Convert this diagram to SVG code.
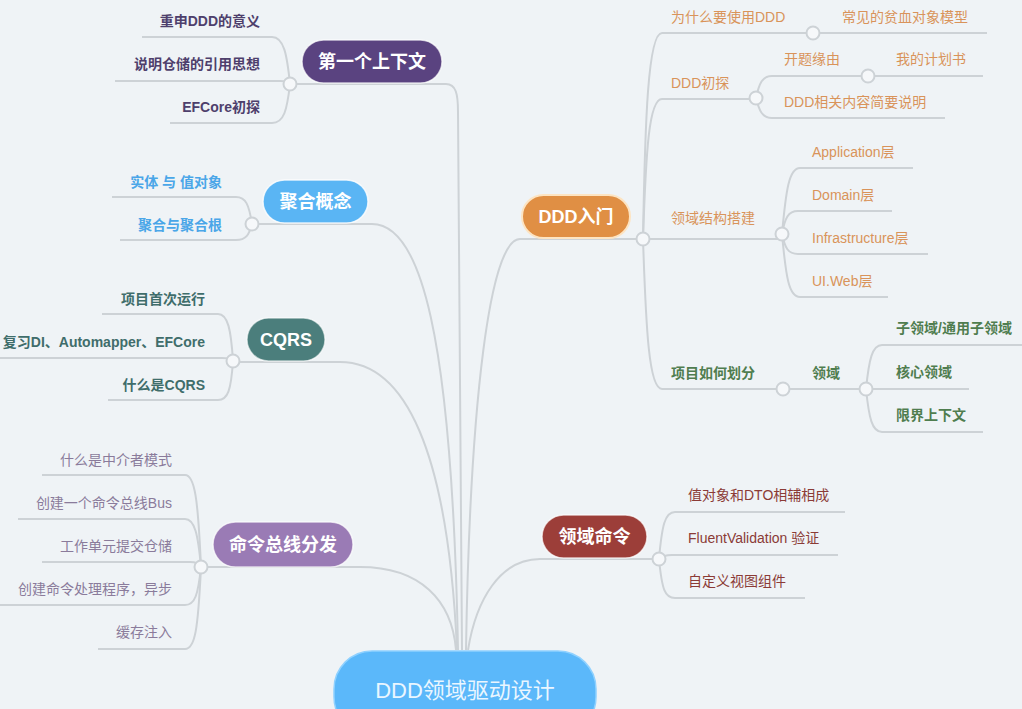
<svg xmlns="http://www.w3.org/2000/svg" width="1022" height="709" viewBox="0 0 1022 709">
<style>
.ln{fill:none;stroke:#cdd2d6;stroke-width:2}
.dot{fill:#f6f8fa;stroke:#cdd2d6;stroke-width:2}
text{font-family:"Liberation Sans","Noto Sans CJK SC",sans-serif;font-size:14px}
.tp{font-size:18px;font-weight:bold;fill:#ffffff;text-anchor:middle}
.e{text-anchor:end}
.c1{fill:#4e3f6c;font-weight:bold}
.c2{fill:#4aa6e8;font-weight:bold}
.c3{fill:#3f6d6b;font-weight:bold}
.c4{fill:#8a7b9b}
.c5{fill:#d9935a}
.c6{fill:#4f7d4f;font-weight:bold}
.c7{fill:#8b3b36}
</style>
<rect x="0" y="0" width="1022" height="709" fill="#eff3f6"/>
<g id="connectors">
<path class="ln" d="M290,84 H446 C456,84 458,94 458,112 L462,650"/>
<path class="ln" d="M252,224 H372 C420,224 452,330 458,650"/>
<path class="ln" d="M233,362 H340 C405,362 448,450 457,650"/>
<path class="ln" d="M201,567 H360 C420,567 452,600 456,650"/>
<path class="ln" d="M643,239 H520 C490,239 470,400 466,650"/>
<path class="ln" d="M659,559 H540 C500,559 476,600 468,650"/>
<path class="ln" d="M290,84 C287,55 284,37 272,37 H142"/>
<path class="ln" d="M290,84 C288,81 286,81 280,81 H115"/>
<path class="ln" d="M290,84 C287,110 284,123 272,123 H170"/>
<path class="ln" d="M252,224 C249,205 246,197 236,197 H112"/>
<path class="ln" d="M252,224 C249,235 246,240 236,240 H120"/>
<path class="ln" d="M233,361 C231,330 228,314 218,314 H102"/>
<path class="ln" d="M233,361 C230,358 228,358 222,358 H0"/>
<path class="ln" d="M233,361 C231,390 228,400 218,400 H108"/>
<path class="ln" d="M201,567 C198,500 195,475 185,475 H42"/>
<path class="ln" d="M201,567 C198,535 195,519 185,519 H18"/>
<path class="ln" d="M201,567 C199,563 196,562 190,562 H42"/>
<path class="ln" d="M201,567 C198,595 195,605 185,605 H0"/>
<path class="ln" d="M201,567 C198,630 195,649 185,649 H98"/>
<path class="ln" d="M643,239 C645,120 648,33 662,33 H987"/>
<path class="ln" d="M643,239 C646,150 649,99 662,99 H756"/>
<path class="ln" d="M643,239 H782"/>
<path class="ln" d="M643,239 C646,330 649,389 662,389 H866"/>
<path class="ln" d="M756,98 C759,84 762,76 772,76 H983"/>
<path class="ln" d="M756,98 C759,110 762,118 772,118 H945"/>
<path class="ln" d="M782,234 C786,190 789,168 800,168 H913"/>
<path class="ln" d="M782,234 C785,218 788,211 798,211 H892"/>
<path class="ln" d="M782,234 C785,248 788,254 798,254 H928"/>
<path class="ln" d="M782,234 C786,278 789,297 800,297 H888"/>
<path class="ln" d="M866,389 C869,360 872,345 882,345 H1022"/>
<path class="ln" d="M866,389 H969"/>
<path class="ln" d="M866,389 C869,418 872,432 882,432 H983"/>
<path class="ln" d="M659,559 C662,525 665,512 675,512 H845"/>
<path class="ln" d="M659,559 C662,556 665,555 672,555 H838"/>
<path class="ln" d="M659,559 C662,590 665,598 675,598 H805"/>
<circle class="dot" cx="290" cy="84" r="6.5"/>
<circle class="dot" cx="252" cy="224" r="6.5"/>
<circle class="dot" cx="233" cy="361" r="6.5"/>
<circle class="dot" cx="201" cy="567" r="6.5"/>
<circle class="dot" cx="643" cy="239" r="6.5"/>
<circle class="dot" cx="659" cy="559" r="6.5"/>
<circle class="dot" cx="813" cy="33" r="6.5"/>
<circle class="dot" cx="756" cy="98" r="6.5"/>
<circle class="dot" cx="868" cy="76" r="6.5"/>
<circle class="dot" cx="782" cy="234" r="6.5"/>
<circle class="dot" cx="783" cy="389" r="6.5"/>
<circle class="dot" cx="866" cy="389" r="6.5"/>
</g>
<g id="root">
<rect x="334" y="651" width="262" height="84" rx="38" fill="#5bb8fa" stroke="#8fd1ff" stroke-width="1.5"/>
<text x="465" y="698" text-anchor="middle" style="font-size:22px;fill:#eaf6ff">DDD领域驱动设计</text>
</g>
<g id="topic-1">
<rect x="302" y="40" width="140" height="43" rx="21.5" fill="#5a4380" stroke="#ffffff" stroke-opacity="0.7" stroke-width="1.5"/>
<text class="tp" x="372" y="68">第一个上下文</text>
</g>
<g id="t1-children">
<text class="c1 e" x="260" y="26">重申DDD的意义</text>
<text class="c1 e" x="260" y="69">说明仓储的引用思想</text>
<text class="c1 e" x="260" y="112">EFCore初探</text>
</g>
<g id="topic-2">
<rect x="263" y="180" width="105" height="43" rx="21.5" fill="#5ab5f4" stroke="#ffffff" stroke-opacity="0.8" stroke-width="1.5"/>
<text class="tp" x="315.5" y="208">聚合概念</text>
</g>
<g id="t2-children">
<text class="c2 e" x="222" y="187">实体 与 值对象</text>
<text class="c2 e" x="222" y="230">聚合与聚合根</text>
</g>
<g id="topic-3">
<rect x="247" y="318" width="78" height="43" rx="21.5" fill="#4b7e7c" stroke="#ffffff" stroke-opacity="0.6" stroke-width="1.5"/>
<text class="tp" x="286" y="346">CQRS</text>
</g>
<g id="t3-children">
<text class="c3 e" x="205" y="304">项目首次运行</text>
<text class="c3 e" x="205" y="347">复习DI、Automapper、EFCore</text>
<text class="c3 e" x="205" y="390">什么是CQRS</text>
</g>
<g id="topic-4">
<rect x="213" y="522" width="140" height="45" rx="22.5" fill="#9a7bb5" stroke="#ffffff" stroke-opacity="0.7" stroke-width="1.5"/>
<text class="tp" x="283" y="551">命令总线分发</text>
</g>
<g id="t4-children">
<text class="c4 e" x="172" y="465">什么是中介者模式</text>
<text class="c4 e" x="172" y="508">创建一个命令总线Bus</text>
<text class="c4 e" x="172" y="551">工作单元提交仓储</text>
<text class="c4 e" x="172" y="594">创建命令处理程序，异步</text>
<text class="c4 e" x="172" y="637">缓存注入</text>
</g>
<g id="topic-5">
<rect x="522" y="195" width="108" height="43" rx="21.5" fill="#e08f44" stroke="#fde4c2" stroke-width="2"/>
<text class="tp" x="576" y="223">DDD入门</text>
</g>
<g id="t5-children">
<text class="c5" x="671" y="22">为什么要使用DDD</text>
<text class="c5" x="842" y="22">常见的贫血对象模型</text>
<text class="c5" x="671" y="88">DDD初探</text>
<text class="c5" x="784" y="64">开题缘由</text>
<text class="c5" x="896" y="64">我的计划书</text>
<text class="c5" x="784" y="107">DDD相关内容简要说明</text>
<text class="c5" x="671" y="223">领域结构搭建</text>
<text class="c5" x="812" y="157">Application层</text>
<text class="c5" x="812" y="200">Domain层</text>
<text class="c5" x="812" y="243">Infrastructure层</text>
<text class="c5" x="812" y="286">UI.Web层</text>
<text class="c6" x="671" y="378">项目如何划分</text>
<text class="c6" x="812" y="378">领域</text>
<text class="c6" x="896" y="333">子领域/通用子领域</text>
<text class="c6" x="896" y="377">核心领域</text>
<text class="c6" x="896" y="420">限界上下文</text>
</g>
<g id="topic-6">
<rect x="542" y="515" width="105" height="43" rx="21.5" fill="#9c3e39" stroke="#ffffff" stroke-opacity="0.7" stroke-width="1.5"/>
<text class="tp" x="594.5" y="543">领域命令</text>
</g>
<g id="t6-children">
<text class="c7" x="688" y="500">值对象和DTO相辅相成</text>
<text class="c7" x="688" y="543">FluentValidation 验证</text>
<text class="c7" x="688" y="586">自定义视图组件</text>
</g>
</svg>
